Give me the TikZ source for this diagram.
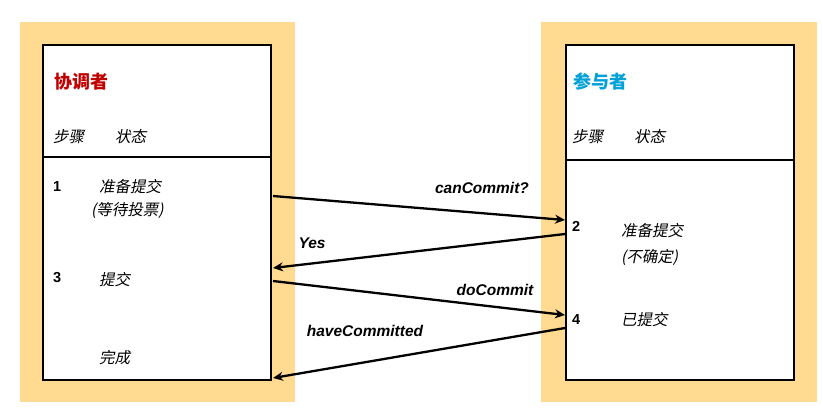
\documentclass[tikz,border=0pt]{standalone}
\usepackage{fontspec}
\setmainfont{Liberation Sans}
\newfontfamily\cjk{Noto Sans CJK SC}
\newfontfamily\cjki[FakeSlant=0.2]{Noto Sans CJK SC}
\definecolor{bgor}{HTML}{FFDA90}
\definecolor{redt}{HTML}{C00000}
\definecolor{cyant}{HTML}{00A0D8}
\tikzset{
  panel/.style={fill=bgor,draw=none},
  box/.style={fill=white,draw=black,line width=1.8pt},
  lbl/.style={anchor=west,inner sep=0pt,font=\cjki\fontsize{15.5}{18}\selectfont},
  num/.style={anchor=west,inner sep=0pt,font=\bfseries\fontsize{14.5}{16}\selectfont},
  ttl/.style={anchor=west,inner sep=0pt,font=\cjk\bfseries\fontsize{18}{20}\selectfont},
  msg/.style={inner sep=0pt,font=\bfseries\itshape\fontsize{15.5}{18}\selectfont},
  arr/.style={-{Stealth[length=10pt,width=9pt]},line width=2.3pt}
}
\usetikzlibrary{arrows.meta}
\begin{document}
\begin{tikzpicture}[x=1pt,y=-1pt]
\useasboundingbox (0,0) rectangle (823,418);
\fill[panel] (20,22) rectangle (295,402);
\fill[panel] (541,22) rectangle (817,402);
\draw[box] (43,45) rectangle (271,380);
\draw[box] (566,45) rectangle (794,380);
\draw[line width=1.8pt] (43,157) -- (271,157);
\draw[line width=1.8pt] (566,160) -- (794,160);
\node[ttl,text=redt] (t1) at (54,82) {协调者};
\node[ttl,text=cyant] (t2) at (573,82) {参与者};
\node[lbl] (h1) at (53,137) {步骤\qquad 状态};
\node[lbl] (h2) at (572,137) {步骤\qquad 状态};
\node[num] (n1) at (53,187) {1};
\node[lbl] (s1) at (99,187) {准备提交};
\node[lbl] (s1b) at (91,210) {(等待投票)};
\node[num] (n3) at (53,278) {3};
\node[lbl] (s3) at (99,280) {提交};
\node[lbl] (s5) at (99,358) {完成};
\node[num] (n2) at (572,226) {2};
\node[lbl] (s2) at (621,231) {准备提交};
\node[lbl] (s2b) at (621,257) {(不确定)};
\node[num] (n4) at (572,320) {4};
\node[lbl] (s4) at (621,320) {已提交};
\coordinate (a1) at (273,196); \coordinate (b1) at (565,220);
\coordinate (a2) at (565,234); \coordinate (b2) at (273,268);
\coordinate (a3) at (273,281); \coordinate (b3) at (565,315);
\coordinate (a4) at (565,328); \coordinate (b4) at (273,378);
\draw[arr] (a1) -- (b1);
\draw[arr] (a2) -- (b2);
\draw[arr] (a3) -- (b3);
\draw[arr] (a4) -- (b4);
\node[msg] (m1) at (482,188) {canCommit?};
\node[msg] (m2) at (312,243) {Yes};
\node[msg] (m3) at (495,290) {doCommit};
\node[msg] (m4) at (365,331) {haveCommitted};
\end{tikzpicture}
\end{document}
